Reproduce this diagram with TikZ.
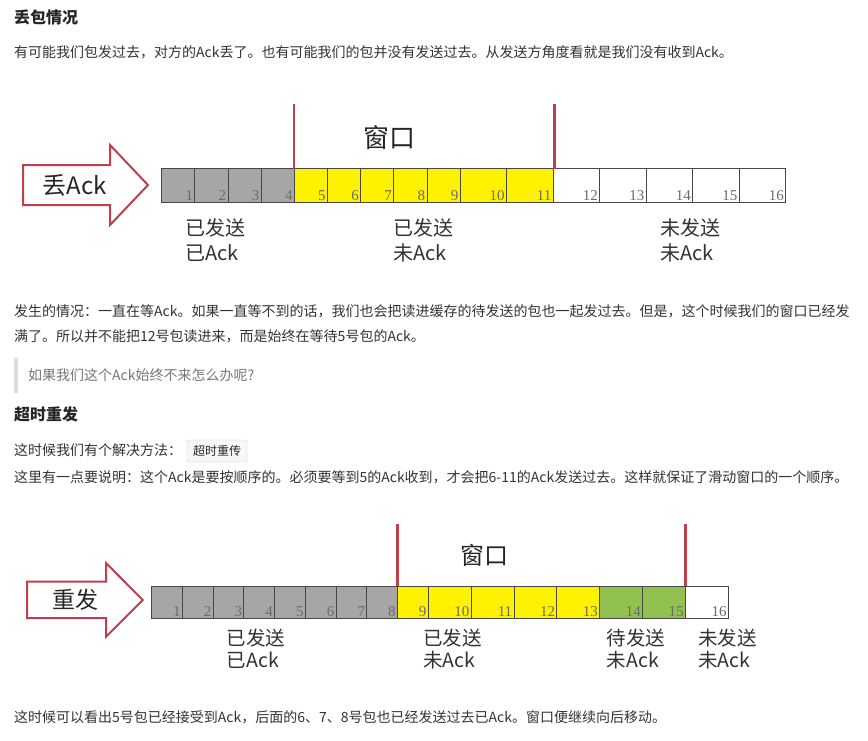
\documentclass[tikz,border=0pt]{standalone}
\usepackage{fontspec}
\setmainfont{Noto Sans CJK SC}
\newfontfamily\numfont{Liberation Serif}
\usetikzlibrary{positioning}
\definecolor{bodytxt}{RGB}{51,51,51}
\definecolor{winred}{RGB}{190,64,78}
\definecolor{sentgray}{RGB}{166,166,166}
\definecolor{winyellow}{RGB}{255,242,0}
\definecolor{readygreen}{RGB}{146,193,80}
\definecolor{quotegray}{RGB}{119,119,119}
\newcommand{\pxfont}[2][]{\fontsize{#2}{#2}\selectfont}
\newcommand{\pxlines}[2]{\fontsize{#1}{#2}\selectfont}

\begin{document}
\begin{tikzpicture}[x=1pt, y=-1pt,
        para/.style={anchor=west, inner sep=0, text=bodytxt, font=\pxfont{14}},
        headline/.style={anchor=west, inner sep=0, text=black!85, font=\pxfont{16}\bfseries},
        cell/.style={draw=black!72, line width=0.8pt, inner sep=0, outer sep=0,
                     anchor=west},
        num/.style={anchor=south east, inner sep=1.6pt, text=black!58,
                    font=\numfont\pxfont{15}},
        state/.style={anchor=west, align=left, inner sep=0, text=black!80},
        winlbl/.style={inner sep=0, text=black!85},
        winline/.style={winred, line width=2.2pt},
        bigarrow/.style={draw=winred, line width=2pt, fill=white, line join=miter},
        codebox/.style={draw=black!20, fill=black!3, rounded corners=2pt,
                        minimum width=60, minimum height=22, inner sep=0,
                        font=\pxfont{12}, text=black!85}]
  \useasboundingbox[fill=white] (0,0) rectangle (868,740);

  % lost ack
  \node[headline] (h1) at (14,17) {丢包情况};
  \node[para] (p1) at (14,52)
    {有可能我们包发过去，对方的Ack丢了。也有可能我们的包并没有发送过去。从发送方角度看就是我们没有收到Ack。};

  \draw[bigarrow] (23,165) -- (110,165) -- (110,145) -- (148,185)
    -- (110,225) -- (110,205) -- (23,205) -- cycle;
  \node[winlbl, font=\pxfont{24}] (lost) at (75,185) {丢Ack};

  \foreach \n in {1,...,4}
    \node[cell, fill=sentgray, minimum width=33.15, minimum height=34]
      (a\n) at ({161.7+(\n-1)*33.15},185.7) {};
  \foreach \n in {5,...,9}
    \node[cell, fill=winyellow, minimum width=33.15, minimum height=34]
      (a\n) at ({161.7+(\n-1)*33.15},185.7) {};
  \foreach \n in {10,11}
    \node[cell, fill=winyellow, minimum width=46.53, minimum height=34]
      (a\n) at ({460+(\n-10)*46.53},185.7) {};
  \foreach \n in {12,...,16}
    \node[cell, fill=white, minimum width=46.53, minimum height=34]
      (a\n) at ({460+(\n-10)*46.53},185.7) {};
  \foreach \n in {1,...,16}
    \node[num] (na\n) at (a\n.south east) {\n};

  \draw[winline] (a5.north west) -- ++(0,-65);
  \draw[winline] ([xshift=1.5pt]a12.north west) -- ++(0,-65);
  \node[winlbl, font=\pxfont{26}] (win1) at (389,138) {窗口};

  \node[state, font=\pxlines{20}{25}] (s1) at (185,240.5) {已发送\\已Ack};
  \node[state, font=\pxlines{20}{25}] (s2) at (393,240.5) {已发送\\未Ack};
  \node[state, font=\pxlines{20}{25}] (s3) at (660,240.5) {未发送\\未Ack};

  \node[para] (p2) at (14,311.5)
    {发生的情况：一直在等Ack。如果一直等不到的话，我们也会把读进缓存的待发送的包也一起发过去。但是，这个时候我们的窗口已经发};
  \node[para] (p3) at (14,336.5)
    {满了。所以并不能把12号包读进来，而是始终在等待5号包的Ack。};

  \fill[black!13] (14,358) rectangle (18,392.7);
  \node[para, text=quotegray] (q1) at (28,375) {如果我们这个Ack始终不来怎么办呢?};

  % timeout resend
  \node[headline] (h2) at (14,414) {超时重发};
  \node[para] (p4) at (14,450) {这时候我们有个解决方法：};
  \node[codebox] (tip) at (217,451) {超时重传};
  \node[para] (p5) at (14,477)
    {这里有一点要说明：这个Ack是要按顺序的。必须要等到5的Ack收到，才会把6-11的Ack发送过去。这样就保证了滑动窗口的一个顺序。};

  \draw[bigarrow] (27,581.7) -- (106,581.7) -- (106,563) -- (142.7,600)
    -- (106,636.7) -- (106,618) -- (27,618) -- cycle;
  \node[winlbl, font=\pxfont{23}] (resend) at (75,600) {重发};

  \foreach \n in {1,...,8}
    \node[cell, fill=sentgray, minimum width=30.73, minimum height=32.3]
      (b\n) at ({151.7+(\n-1)*30.73},602.2) {};
  \node[cell, fill=winyellow, minimum width=30.73, minimum height=32.3]
    (b9) at ({151.7+8*30.73},602.2) {};
  \foreach \n in {10,...,13}
    \node[cell, fill=winyellow, minimum width=42.86, minimum height=32.3]
      (b\n) at ({428.3+(\n-10)*42.86},602.2) {};
  \foreach \n in {14,15}
    \node[cell, fill=readygreen, minimum width=42.86, minimum height=32.3]
      (b\n) at ({428.3+(\n-10)*42.86},602.2) {};
  \node[cell, fill=white, minimum width=42.86, minimum height=32.3]
    (b16) at ({428.3+6*42.86},602.2) {};
  \foreach \n in {1,...,16}
    \node[num] (nb\n) at (b\n.south east) {\n};

  \draw[winline] (b9.north west) -- ++(0,-62);
  \draw[winline] (b16.north west) -- ++(0,-62);
  \node[winlbl, font=\pxfont{24}] (win2) at (484,555) {窗口};

  \node[state, font=\pxlines{19.5}{22}] (r1) at (226.7,649) {已发送\\已Ack};
  \node[state, font=\pxlines{19.5}{22}] (r2) at (423,649) {已发送\\未Ack};
  \node[state, font=\pxlines{19.5}{22}] (r3) at (606.7,649) {待发送\\未Ack};
  \node[state, font=\pxlines{19.5}{22}] (r4) at (698,649) {未发送\\未Ack};

  \node[para] (p6) at (14,717)
    {这时候可以看出5号包已经接受到Ack，后面的6、7、8号包也已经发送过去已Ack。窗口便继续向后移动。};
\end{tikzpicture}
\end{document}
